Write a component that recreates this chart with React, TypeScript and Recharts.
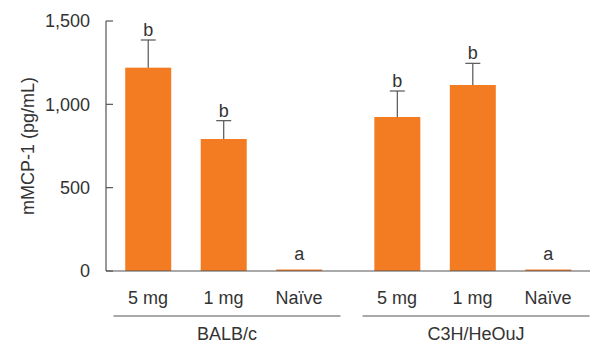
import React from "react";
import { ComposedChart, Bar, XAxis, YAxis, Label } from "recharts";

const groups = ["BALB/c", "C3H/HeOuJ"];
const doses = ["5 mg", "1 mg", "Naïve", "5 mg", "1 mg", "Naïve"];
const xPos = [0, 1, 2, 3.3, 4.3, 5.3];
const means = [1220, 792, 9, 924, 1116, 9];
const errs = [166, 110, 0, 156, 130, 0];
const letters = ["b", "b", "a", "b", "b", "a"];
const yTicks = [0, 500, 1000, 1500];

const data = xPos.map((x, i) => ({
  x,
  dose: doses[i],
  mean: means[i],
  err: errs[i],
  letter: letters[i],
}));

const FONT = "'Liberation Sans Narrow', 'Liberation Sans', 'DejaVu Sans Condensed', sans-serif";
const TXT = { fontFamily: FONT, fontStretch: "condensed" as const };
const ORANGE = "#F37B22";
const GREY = "#555";

function BarWithError(props: any) {
  const { x, y, width, height, payload } = props;
  const cx = x + width / 2;
  const perUnit = payload.mean > 0 ? height / payload.mean : 0;
  const errTop = y - payload.err * perUnit;
  const letterY = Math.min(errTop - 4, y - 10);
  return (
    <g>
      <rect x={x} y={y} width={width} height={height} fill={ORANGE} />
      {payload.err > 0 && (
        <g stroke={GREY} strokeWidth={1.2}>
          <line x1={cx} x2={cx} y1={y} y2={errTop} />
          <line x1={cx - 7.5} x2={cx + 7.5} y1={errTop} y2={errTop} />
        </g>
      )}
      <text x={cx} y={letterY} textAnchor="middle" style={TXT} fontSize={18} fill="#333">
        {payload.letter}
      </text>
    </g>
  );
}

function DoseTick(props: any) {
  const { x, y, index } = props;
  const mid = index === 1 || index === 4;
  const group = index === 1 ? groups[0] : groups[1];
  return (
    <g style={TXT} fontSize={18} fill="#333">
      <text x={x} y={y + 33} textAnchor="middle">{doses[index]}</text>
      {mid && (
        <g>
          <line x1={x - 110} x2={x + 117} y1={y + 45} y2={y + 45} stroke={GREY} strokeWidth={1.2} />
          <text x={x + 3.5} y={y + 69} textAnchor="middle">{group}</text>
        </g>
      )}
    </g>
  );
}

export default function App() {
  return (
    <div style={{ position: "absolute", left: 0, top: 0, background: "#fff" }}>
      <ComposedChart
        width={595}
        height={344}
        data={data}
        margin={{ top: 21, right: 5, bottom: 0, left: 0 }}
      >
        <XAxis
          dataKey="x"
          type="number"
          domain={[-0.556, 5.856]}
          ticks={xPos}
          interval={0}
          height={73}
          tickSize={0}
          tickMargin={0}
          tickLine={false}
          axisLine={{ stroke: GREY, strokeWidth: 1.2 }}
          tick={<DoseTick />}
          allowDataOverflow
        />
        <YAxis
          type="number"
          domain={[0, 1500]}
          ticks={yTicks}
          width={106}
          tickSize={-7}
          tickMargin={23}
          tickFormatter={(v: number) => v.toLocaleString("en-US")}
          tick={{ ...TXT, fontSize: 18, fill: "#333" }}
          tickLine={{ stroke: GREY, strokeWidth: 1.2 }}
          axisLine={{ stroke: GREY, strokeWidth: 1.2 }}
        >
          <Label
            value="mMCP-1 (pg/mL)"
            angle={-90}
            position="center"
            dx={-25}
            style={{ ...TXT, fontSize: 18, fill: "#333" }}
          />
        </YAxis>
        <Bar dataKey="mean" barSize={46} shape={<BarWithError />} isAnimationActive={false} />
      </ComposedChart>
    </div>
  );
}
